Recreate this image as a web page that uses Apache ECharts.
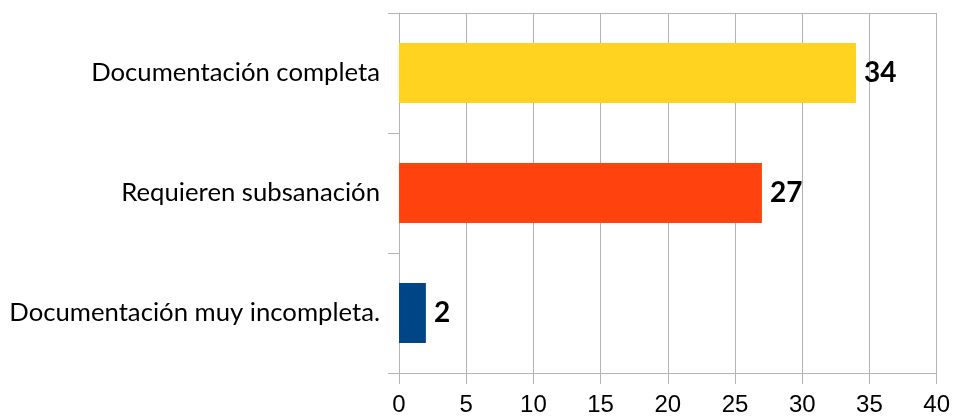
<!DOCTYPE html>
<html>
<head>
<meta charset="utf-8">
<script src="https://cdn.jsdelivr.net/npm/echarts@6/dist/echarts.min.js"></script>
<style>
  html, body { margin: 0; padding: 0; background: #fff; }
  #main { width: 953px; height: 419px; }
</style>
</head>
<body>
<div id="main"></div>
<script>
  // categories listed bottom to top
  var categories = ['Documentación muy incompleta.', 'Requieren subsanación', 'Documentación completa'];
  var values = [2, 27, 34];
  var barColors = ['#004586', '#ff420e', '#ffd320'];
  var xTicks = [0, 5, 10, 15, 20, 25, 30, 35, 40];

  var gridColor = '#b3b3b3';
  var chart = echarts.init(document.getElementById('main'));
  chart.setOption({
    animation: false,
    grid: { left: 399, right: 16, top: 13, bottom: 46, containLabel: false },
    xAxis: [
      {
        type: 'value',
        min: xTicks[0],
        max: xTicks[xTicks.length - 1],
        interval: xTicks[1] - xTicks[0],
        axisLine: { show: true, lineStyle: { color: gridColor, width: 1 } },
        axisTick: { show: true, length: 11, lineStyle: { color: gridColor } },
        axisLabel: {
          margin: 20,
          fontFamily: 'Liberation Sans',
          fontSize: 24,
          color: '#000'
        },
        splitLine: { show: true, lineStyle: { color: gridColor, width: 1 } }
      },
      {
        type: 'value',
        position: 'top',
        min: xTicks[0],
        max: xTicks[xTicks.length - 1],
        axisLine: { show: true, lineStyle: { color: gridColor, width: 1 } },
        axisTick: { show: false },
        axisLabel: { show: false },
        splitLine: { show: false }
      }
    ],
    yAxis: {
      type: 'category',
      data: categories,
      axisLine: { show: true, lineStyle: { color: gridColor, width: 1 } },
      axisTick: { show: true, length: 11, lineStyle: { color: gridColor } },
      axisLabel: {
        margin: 19,
        fontFamily: 'Lato',
        fontSize: 25.7,
        color: '#000'
      },
      splitLine: { show: false }
    },
    series: [
      {
        type: 'bar',
        xAxisIndex: 0,
        barWidth: '50%',
        data: values.map(function (v, i) {
          return { value: v, itemStyle: { color: barColors[i] } };
        }),
        label: {
          show: true,
          position: 'right',
          distance: 8,
          fontFamily: 'Lato',
          fontWeight: 'bold',
          fontSize: 28,
          color: '#000'
        }
      }
    ]
  });
</script>
</body>
</html>
